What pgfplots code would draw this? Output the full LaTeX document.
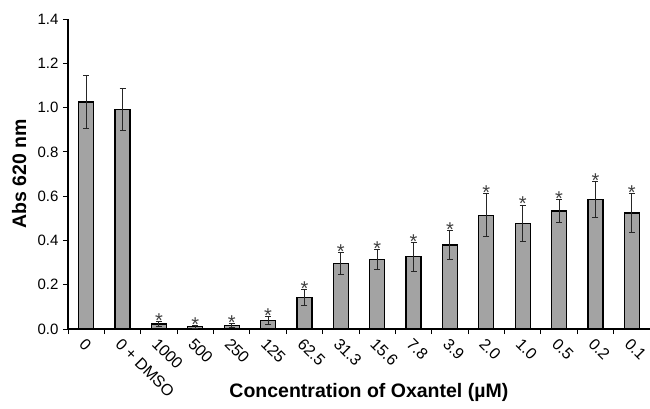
\documentclass[border=0pt]{standalone}
\usepackage{fontspec}
\setmainfont{Liberation Sans}
\usepackage{pgfplots}
\usepackage{pgfplotstable}
\pgfplotsset{compat=1.18}
\definecolor{barfill}{HTML}{A3A3A3}
\pgfplotstableread{
x y err
0 1.025 0.120
1 0.990 0.095
2 0.022 0.012
3 0.010 0.008
4 0.015 0.009
5 0.039 0.017
6 0.141 0.036
7 0.297 0.050
8 0.315 0.045
9 0.327 0.065
10 0.379 0.065
11 0.514 0.097
12 0.477 0.083
13 0.533 0.054
14 0.584 0.081
15 0.524 0.087
}\datatable
\begin{document}
\begin{tikzpicture}
\useasboundingbox (-68pt,-80pt) rectangle (582pt,329pt);
\begin{axis}[
  scale only axis,
  width=582pt, height=310pt,
  xmin=-0.5, xmax=15.5,
  ymin=0, ymax=1.4,
  axis x line*=bottom, axis y line*=left,
  axis line style={-, line width=1.2pt},
  tick align=outside,
  ytick={0,0.2,...,1.4},
  /pgf/number format/fixed,
  /pgf/number format/fixed zerofill,
  /pgf/number format/precision=1,
  /pgf/number format/assume math mode=true,
  yticklabel style={font=\fontsize{15}{17}\selectfont, xshift=-1pt},
  xtick={0,...,15},
  xticklabels={0, 0 + DMSO, 1000, 500, 250, 125, 62.5, 31.3, 15.6, 7.8, 3.9, 2.0, 1.0, 0.5, 0.2, 0.1},
  xticklabel style={font=\fontsize{16}{18}\selectfont, rotate=-45, anchor=north west, inner sep=2pt},
  major x tick style={draw=none},
  minor xtick={-0.5,0.5,...,15.5},
  minor tick length=5pt,
  major tick length=5pt,
  tick style={black, line width=0.8pt},
  every axis y label/.style={at={(axis description cs:-0.084,0.5)}, rotate=90, anchor=center},
  every axis x label/.style={at={(axis description cs:0.517,-0.206)}, anchor=center},
  ylabel={\fontsize{19.5}{22}\selectfont\bfseries Abs 620 nm},
  xlabel={\fontsize{19.5}{22}\selectfont\bfseries Concentration of Oxantel (µM)},
  clip=false,
]
\addplot[ybar, bar width=15pt, fill=barfill, draw=black, line width=1.3pt,
  error bars/.cd, y dir=both, y explicit,
  error bar style={line width=0.9pt, black!85},
  error mark options={rotate=90, mark size=3pt, line width=0.9pt, black!85}]
  table[x=x, y=y, y error=err] {\datatable};
\addplot[draw=none, mark=none, skip coords between index={0}{2},
  nodes near coords={\fontsize{20}{20}\selectfont *},
  every node near coord/.style={anchor=base, yshift=-6pt, inner sep=0pt, text=black!75}]
  table[x=x, y expr=\thisrow{y}+\thisrow{err}] {\datatable};
\end{axis}
\end{tikzpicture}
\end{document}
